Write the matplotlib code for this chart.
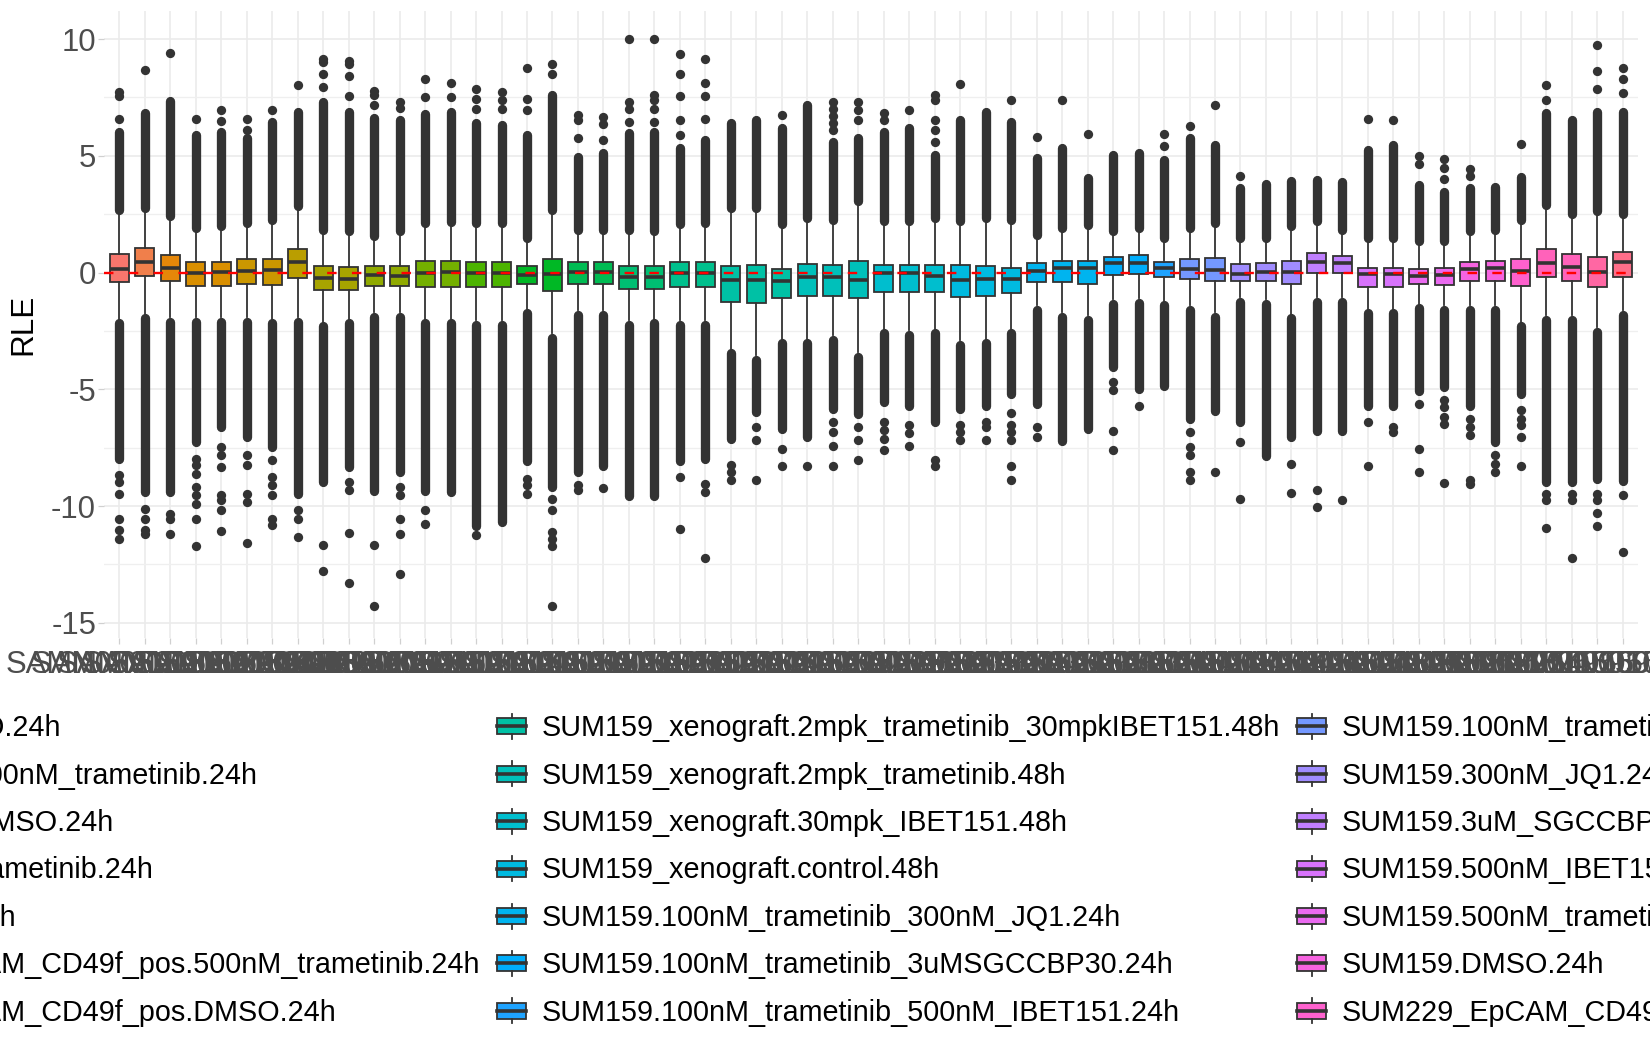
import matplotlib
matplotlib.use("Agg")
import matplotlib.pyplot as plt
from matplotlib.patches import Patch, Rectangle
from matplotlib.lines import Line2D
from matplotlib.legend_handler import HandlerBase

plt.rcParams['font.family'] = ['Liberation Sans', 'DejaVu Sans']
plt.rcParams['axes.unicode_minus'] = False

# legend levels (fill)
conditions = [
    "HCC1806.100nM_trametinib.24h",
    "HCC1806.DMSO.24h",
    "MDA-MB-231.100nM_trametinib.24h",
    "MDA-MB-231.DMSO.24h",
    "SUM149.100nM_trametinib_500nM_IBET151.24h",
    "SUM149.100nM_trametinib.24h",
    "SUM149.500nM_IBET151.24h",
    "SUM149.DMSO.24h",
    "SUM149PT2.500nM_trametinib.24h",
    "SUM149PT2.DMSO.24h",
    "SUM149PT2.trametinib.24h",
    "SUM159.WT.24h",
    "SUM149_EpCAM_CD49f_pos.500nM_trametinib.24h",
    "SUM149_EpCAM_CD49f_pos.DMSO.24h",
    "SUM159_xenograft.2mpk_trametinib_30mpkIBET151.48h",
    "SUM159_xenograft.2mpk_trametinib.48h",
    "SUM159_xenograft.30mpk_IBET151.48h",
    "SUM159_xenograft.control.48h",
    "SUM159.100nM_trametinib_300nM_JQ1.24h",
    "SUM159.100nM_trametinib_3uMSGCCBP30.24h",
    "SUM159.100nM_trametinib_500nM_IBET151.24h",
    "SUM159.100nM_trametinib.24h",
    "SUM159.300nM_JQ1.24h",
    "SUM159.3uM_SGCCBP30.24h",
    "SUM159.500nM_IBET151.24h",
    "SUM159.500nM_trametinib.24h",
    "SUM159.DMSO.24h",
    "SUM229_EpCAM_CD49f_pos.500nM_trametinib.24h",
    "SUM229_EpCAM_CD49f_pos.DMSO.24h",
    "SUM229.500nM_trametinib.24h",
    "SUM229.DMSO.24h",
]

# x axis sample ids
samples = [
    "SAMN05916001", "SAMN05916002", "SAMN05916003", "SAMN05916004", "SAMN05916005",
    "SAMN05916006", "SAMN05916007", "SAMN05916008", "SAMN05916009", "SAMN05916010",
    "SAMN05916011", "SAMN05916012", "SAMN05916013", "SAMN05916014", "SAMN05916015",
    "SAMN05916016", "SAMN05916017", "SAMN05916018", "SAMN05916019", "SAMN05916020",
    "SAMN05916021", "SAMN05916022", "SAMN05916023", "SAMN05916024", "SAMN05916025",
    "SAMN05916026", "SAMN05916027", "SAMN05916028", "SAMN05916029", "SAMN05916030",
    "SAMN05916031", "SAMN05916032", "SAMN05916033", "SAMN05916034", "SAMN05916035",
    "SAMN05916036", "SAMN05916037", "SAMN05916038", "SAMN05916039", "SAMN05916040",
    "SAMN05916041", "SAMN05916042", "SAMN05916043", "SAMN05916044", "SAMN05916045",
    "SAMN05916046", "SAMN05916047", "SAMN05916048", "SAMN05916049", "SAMN05916050",
    "SAMN05916051", "SAMN05916052", "SAMN05916053", "SAMN05916054", "SAMN05916055",
    "SAMN05916056", "SAMN05916057", "SAMN05916058", "SAMN05916059", "SAMN05916060",
]

# condition of every sample (1-based index into conditions)
group = [1, 2, 3, 4, 4, 5, 5, 6, 7, 7, 8, 8, 9, 9, 10, 10, 11, 11, 12, 12,
         13, 13, 14, 14, 15, 15, 15, 16, 16, 16, 17, 17, 17, 18, 18, 18, 19, 19, 19, 20,
         20, 21, 22, 22, 23, 23, 23, 24, 24, 25, 25, 26, 26, 27, 27, 28, 29, 29, 30, 31]

q3 = [0.79, 1.04, 0.77, 0.44, 0.46, 0.56, 0.60, 0.99, 0.26, 0.23,
      0.29, 0.29, 0.49, 0.49, 0.46, 0.46, 0.29, 0.60, 0.46, 0.46,
      0.30, 0.30, 0.47, 0.47, 0.26, 0.31, 0.16, 0.36, 0.33, 0.50,
      0.33, 0.33, 0.33, 0.33, 0.29, 0.19, 0.41, 0.50, 0.50, 0.67,
      0.73, 0.46, 0.59, 0.63, 0.36, 0.40, 0.50, 0.84, 0.69, 0.21,
      0.21, 0.14, 0.21, 0.47, 0.50, 0.60, 1.00, 0.79, 0.67, 0.90]
med = [0.17, 0.46, 0.19, -0.01, 0.04, 0.07, 0.10, 0.44, -0.23, -0.26,
       -0.11, -0.14, 0.00, 0.03, -0.04, -0.04, -0.11, -0.05, 0.03, 0.03,
       -0.19, -0.19, 0.00, 0.00, -0.30, -0.33, -0.36, -0.21, -0.21, -0.33,
       -0.04, -0.04, -0.14, -0.30, -0.29, -0.29, 0.07, 0.19, 0.19, 0.39,
       0.43, 0.19, 0.14, 0.10, -0.07, 0.04, 0.04, 0.46, 0.43, -0.07,
       -0.07, -0.14, -0.10, 0.14, 0.19, 0.07, 0.43, 0.24, 0.04, 0.46]
q1 = [-0.40, -0.14, -0.36, -0.57, -0.57, -0.49, -0.53, -0.24, -0.74, -0.74,
      -0.59, -0.59, -0.61, -0.61, -0.64, -0.64, -0.50, -0.79, -0.47, -0.47,
      -0.71, -0.71, -0.61, -0.61, -1.26, -1.30, -1.11, -1.00, -1.00, -1.10,
      -0.83, -0.83, -0.83, -1.04, -1.00, -0.86, -0.40, -0.40, -0.50, -0.11,
      -0.07, -0.21, -0.29, -0.36, -0.36, -0.36, -0.50, -0.04, -0.03, -0.60,
      -0.60, -0.50, -0.53, -0.36, -0.36, -0.57, -0.21, -0.36, -0.64, -0.19]
whis_hi = [2.50, 2.57, 2.24, 1.71, 1.79, 1.93, 2.07, 2.64, 1.61, 1.57,
           1.36, 1.57, 1.93, 1.96, 1.93, 1.93, 1.29, 2.50, 1.64, 1.64,
           1.64, 1.57, 1.86, 1.93, 2.57, 2.57, 1.86, 2.14, 2.07, 2.86,
           2.00, 2.00, 2.14, 2.00, 2.14, 2.07, 1.39, 1.71, 1.83, 1.57,
           1.71, 1.29, 1.71, 1.93, 1.29, 1.29, 1.79, 2.00, 1.64, 1.29,
           1.29, 1.14, 1.14, 1.57, 1.64, 2.07, 2.71, 2.29, 2.43, 2.29]
whis_lo = [-1.97, -1.76, -1.90, -1.90, -1.90, -1.90, -1.97, -1.90, -2.11, -1.97,
           -1.69, -1.69, -1.97, -1.97, -2.04, -2.04, -1.54, -2.61, -1.61, -1.61,
           -2.04, -1.97, -2.04, -2.04, -3.26, -3.54, -2.83, -2.83, -2.69, -3.40,
           -2.40, -2.47, -2.40, -2.90, -2.83, -2.40, -1.40, -1.69, -1.83, -1.15,
           -1.10, -1.20, -1.40, -1.69, -1.05, -1.15, -1.76, -1.05, -1.05, -1.54,
           -1.54, -1.33, -1.40, -1.40, -1.40, -2.11, -1.83, -1.83, -2.33, -1.61]

# dense runs of outliers beyond the whiskers
dense_hi = [6.23, 7.02, 7.55, 6.09, 6.23, 5.95, 6.66, 7.06, 7.52, 7.06,
            6.80, 6.73, 6.98, 7.06, 6.59, 6.52, 6.09, 7.81, 5.16, 5.30,
            6.16, 6.23, 5.52, 5.87, 6.59, 6.73, 6.38, 7.38, 5.80, 5.95,
            6.23, 6.38, 5.23, 6.73, 7.06, 6.66, 5.09, 5.52, 4.23, 5.23,
            5.30, 5.01, 5.95, 5.66, 3.80, 4.01, 4.11, 4.15, 4.08, 5.44,
            5.66, 3.94, 3.65, 3.80, 3.87, 4.30, 7.02, 6.73, 7.09, 7.06]
dense_lo = [-8.19, -9.61, -9.61, -7.47, -6.83, -7.26, -7.69, -9.69, -9.19, -8.54,
            -9.54, -8.76, -9.54, -9.61, -11.04, -10.90, -8.26, -9.40, -8.76, -8.47,
            -9.76, -9.76, -8.26, -8.19, -7.33, -6.19, -6.90, -7.26, -6.04, -6.26,
            -5.76, -5.90, -6.61, -6.04, -5.90, -5.40, -5.83, -7.40, -6.90, -4.26,
            -5.19, -5.04, -6.47, -6.11, -6.61, -8.04, -7.26, -6.97, -6.97, -5.90,
            -5.90, -5.26, -5.11, -5.90, -7.47, -5.40, -9.19, -9.19, -9.04, -9.11]

# isolated outliers
out_hi = [
    [6.59, 7.55, 7.74], [8.67], [9.41], [6.59], [6.49, 6.98],
    [6.09, 6.58], [6.95], [8.02], [7.95, 8.50, 9.03, 9.14], [7.55, 8.42, 8.91, 9.05],
    [7.16, 7.59, 7.78], [7.06, 7.31], [7.52, 8.27], [7.52, 8.12], [7.02, 7.42, 7.88],
    [7.02, 7.38, 7.71], [6.95, 7.45, 8.74], [8.52, 8.95], [5.77, 6.52, 6.76], [5.66, 6.38, 6.66],
    [6.45, 7.02, 7.31, 9.99], [6.45, 7.02, 7.38, 7.59, 9.99], [5.87, 6.52, 7.55, 8.52, 9.36], [6.59, 7.55, 8.12, 9.13], [],
    [], [6.73], [], [6.10, 6.40, 6.70, 7.00, 7.31], [6.52, 6.95, 7.31],
    [6.52, 6.83], [6.95], [5.59, 6.09, 6.52, 7.38, 7.59], [8.07], [],
    [7.38], [5.80], [7.38], [5.92], [],
    [], [5.44, 5.95], [6.26], [7.19], [4.15],
    [], [], [], [], [6.56],
    [6.52], [4.66, 5.01], [4.01, 4.47, 4.87], [4.15, 4.44], [],
    [5.52], [7.41, 8.01], [], [7.88, 8.62, 9.74], [7.69, 8.28, 8.74],
]
out_lo = [
    [-8.69, -8.97, -9.47, -10.54, -11.04, -11.40], [-10.11, -10.54, -11.04, -11.19],
    [-10.33, -10.54, -11.19], [-7.97, -8.26, -8.61, -9.19, -9.54, -9.90, -10.54, -11.73],
    [-7.47, -7.83, -8.33, -9.54, -9.76, -10.19, -11.07], [-7.83, -8.26, -9.47, -9.83, -11.59],
    [-8.04, -8.76, -9.11, -9.54, -10.54, -10.83], [-10.19, -10.54, -11.33],
    [-11.66, -12.76], [-8.97, -9.33, -11.14, -13.30],
    [-11.66, -14.30], [-9.19, -9.54, -10.54, -11.19, -12.90],
    [-10.19, -10.76], [], [-11.26], [],
    [-8.83, -9.11, -9.47], [-9.69, -10.19, -11.11, -11.40, -11.69, -14.30],
    [-9.11, -9.33], [-9.23], [], [],
    [-8.76, -11.00], [-9.04, -9.40, -12.23],
    [-8.26, -8.54, -8.87], [-6.61, -7.19, -8.87], [-7.54, -8.30], [-8.30],
    [-6.40, -6.83, -7.44, -8.30], [-6.61, -7.19, -8.04],
    [-6.40, -6.76, -7.11, -7.61], [-6.54, -6.87, -7.44], [-8.04, -8.30],
    [-6.54, -6.83, -7.16], [-6.40, -6.61, -7.19], [-6.01, -6.54, -6.83, -7.16, -8.30, -8.87],
    [-6.61, -7.04], [], [], [-4.69, -5.04, -6.80, -7.59],
    [-5.73], [], [-6.83, -7.47, -7.83, -8.54, -8.87], [-8.54], [-7.26, -9.69],
    [], [-8.21, -9.44], [-9.33, -10.04], [-9.76], [-6.40, -8.30],
    [-6.61, -6.83], [-5.61, -7.56, -8.54], [-5.44, -5.76, -6.19, -6.47, -9.01],
    [-6.26, -6.61, -6.97, -8.87, -9.04], [-7.83, -8.19, -8.54],
    [-5.90, -6.26, -6.54, -7.04, -8.29], [-9.47, -9.76, -10.96], [-9.47, -9.76, -12.24],
    [-9.47, -9.76, -10.30, -10.86], [-9.51, -11.97],
]

EDGE = "#333333"
W, H = 1650, 1050
LEG_FS = 20.7
AX_FS = 22.4


def hcl_hex(h, c=100.0, l=65.0):
    # polarLUV -> sRGB, as R's hcl()
    import math
    xn, yn, zn = 95.047, 100.0, 108.883
    u = c * math.cos(math.radians(h))
    v = c * math.sin(math.radians(h))
    y = yn * ((l + 16) / 116) ** 3
    un = 4 * xn / (xn + 15 * yn + 3 * zn)
    vn = 9 * yn / (xn + 15 * yn + 3 * zn)
    up = u / (13 * l) + un
    vp = v / (13 * l) + vn
    x = 9.0 * y * up / (4 * vp)
    z = -x / 3 - 5 * y + 3 * y / vp
    x, y, z = x / 100, y / 100, z / 100
    rgb = [3.240479 * x - 1.537150 * y - 0.498535 * z,
           -0.969256 * x + 1.875992 * y + 0.041556 * z,
           0.055648 * x - 0.204043 * y + 1.057311 * z]
    out = []
    for ch in rgb:
        ch = 12.92 * ch if ch <= 0.0031308 else 1.055 * ch ** (1 / 2.4) - 0.055
        out.append(min(max(ch, 0.0), 1.0))
    return matplotlib.colors.to_hex(out)


n_cond = len(conditions)
palette = [hcl_hex(15 + 360 * k / n_cond) for k in range(n_cond)]
pos = list(range(1, len(samples) + 1))

fig = plt.figure(figsize=(W / 100, H / 100), dpi=100)
ax = fig.add_axes([104 / W, 1 - 638 / H, (1638 - 104) / W, (638 - 11) / H])

stats = []
for i in range(len(samples)):
    stats.append(dict(med=med[i], q1=q1[i], q3=q3[i], whislo=whis_lo[i], whishi=whis_hi[i], fliers=[]))
bp = ax.bxp(stats, positions=pos, widths=0.75, patch_artist=True, showfliers=False, showcaps=False,
            manage_ticks=False,
            boxprops=dict(edgecolor=EDGE, linewidth=1.3),
            medianprops=dict(color=EDGE, linewidth=2.6, solid_capstyle="butt"),
            whiskerprops=dict(color=EDGE, linewidth=1.3))
for patch, g in zip(bp["boxes"], group):
    patch.set_facecolor(palette[g - 1])

ax.set_xlim(0.4, len(samples) + 0.6)
ax.set_ylim(-15.65, 11.2)
for s in ax.spines.values():
    s.set_visible(False)

ax.set_yticks([-15, -10, -5, 0, 5, 10])
ax.set_yticks([-12.5, -7.5, -2.5, 2.5, 7.5], minor=True)
ax.set_xticks(pos)
ax.set_xticklabels(samples)
ax.grid(which="major", color="#EBEBEB", lw=1.2, zorder=0)
ax.grid(which="minor", axis="y", color="#EFEFEF", lw=0.9, zorder=0)
ax.set_axisbelow(True)
ax.tick_params(which="major", length=4.3, width=0.9, color="#D0D0D0",
               labelsize=AX_FS, labelcolor="#4D4D4D")
ax.tick_params(axis="y", pad=1.4)
ax.tick_params(axis="x", pad=4.3)
ax.tick_params(which="minor", length=0)

ax.set_ylabel("RLE", fontsize=22.6, color="black")
ax.yaxis.set_label_coords((38 - 104) / (1638 - 104), 0.5)

# outliers: dense stacks drawn as round-capped bars, isolated ones as points
MS = 6.7
px_per_unit = (638 - 11) / (11.2 + 15.65)
r = MS * 100 / 72 / 2 / px_per_unit
ax.vlines(pos, [v + r for v in whis_hi], [v - r for v in dense_hi], colors=EDGE, lw=MS, capstyle="round", zorder=2)
ax.vlines(pos, [v - r for v in whis_lo], [v + r for v in dense_lo], colors=EDGE, lw=MS, capstyle="round", zorder=2)
px, py = [], []
for i in range(len(samples)):
    for v in out_hi[i] + out_lo[i]:
        px.append(pos[i])
        py.append(v)
ax.plot(px, py, "o", ms=MS, color=EDGE, mec="none", zorder=2)

ax.axhline(0, color="red", lw=1.7, ls=(0, (4.0, 6.5)), zorder=5)


class BoxKey(HandlerBase):
    def create_artists(self, legend, orig_handle, xdescent, ydescent, width, height, fontsize, trans):
        x0, y0 = -xdescent, -ydescent
        xm = x0 + width / 2
        box = Rectangle((x0, y0 + 0.18 * height), width, 0.64 * height,
                        facecolor=orig_handle.get_facecolor(), edgecolor=EDGE, lw=1.3, transform=trans)
        w1 = Line2D([xm, xm], [y0, y0 + 0.18 * height], color=EDGE, lw=1.3, transform=trans)
        w2 = Line2D([xm, xm], [y0 + 0.82 * height, y0 + height], color=EDGE, lw=1.3, transform=trans)
        mid = Line2D([x0, x0 + width], [y0 + height / 2] * 2, color=EDGE, lw=2.6, transform=trans)
        arts = [box, w1, w2, mid]
        if not orig_handle.get_visible():
            for a in arts:
                a.set_visible(False)
        return arts


handles = [Patch(facecolor=c) for c in palette]
labels = list(conditions)
# pad to 7 rows x 5 columns, like ggplot's layout
while len(handles) < 35:
    handles.append(Patch(visible=False))
    labels.append("")

fs_px = LEG_FS * 100 / 72


def build_legend(lsp, csp):
    return fig.legend(handles, labels, ncol=5, loc="upper left", bbox_to_anchor=(0, 0.3),
                      bbox_transform=fig.transFigure, frameon=False, fontsize=LEG_FS,
                      handlelength=1.0, handleheight=0.96, handletextpad=0.55,
                      labelspacing=lsp, columnspacing=csp, borderpad=0, borderaxespad=0,
                      handler_map={Patch: BoxKey()})


leg = build_legend(0.5, 0.5)
fig.canvas.draw()
t = leg.get_texts()
b14, b15, b21 = (t[i].get_window_extent() for i in (14, 15, 21))
row_gap = b14.y0 - b15.y0
col_gap = b21.x0 - b14.x0
leg.remove()
leg = build_legend(0.5 + (47.4 - row_gap) / fs_px, 0.5 + (800 - col_gap) / fs_px)
fig.canvas.draw()
b14 = leg.get_texts()[14].get_window_extent()
dx = 542 - b14.x0
dy = (H - 728.3) - (b14.y0 + b14.y1) / 2
leg.set_bbox_to_anchor((dx / W, 0.3 + dy / H), transform=fig.transFigure)

fig.savefig("out.png", dpi=100)
